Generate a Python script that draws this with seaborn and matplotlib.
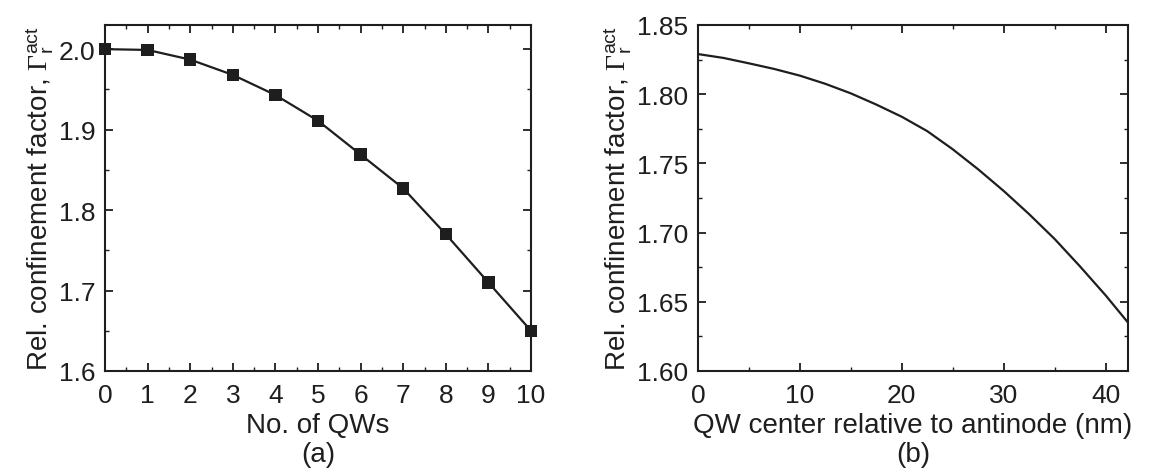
import numpy as np
import pandas as pd
import matplotlib
matplotlib.use("Agg")
import matplotlib.pyplot as plt
from matplotlib.ticker import MultipleLocator, FormatStrFormatter
import seaborn as sns

# Panel (a) data
num_qws = [0, 1, 2, 3, 4, 5, 6, 7, 8, 9, 10]
gamma_a = [2.000, 1.999, 1.987, 1.968, 1.943, 1.911, 1.869, 1.827, 1.770, 1.710, 1.650]

# Panel (b) data
qw_pos = [0, 2.5, 5, 7.5, 10, 12.5, 15, 17.5, 20, 22.5, 25, 27.5, 30,
          32.5, 35, 37.5, 40, 42.2]
gamma_b = [1.829, 1.8262, 1.8223, 1.8182, 1.8134, 1.8075, 1.8006, 1.7925,
           1.7837, 1.7733, 1.7602, 1.7457, 1.7301, 1.7133, 1.6954, 1.6755,
           1.6547, 1.635]

xlabel_a = "No. of QWs"
xlabel_b = "QW center relative to antinode (nm)"
ylabel = r"Rel. confinement factor, $\Gamma_{\mathsf{r}}^{\mathsf{act}}$"

sns.set_theme(style="ticks")
plt.rcParams['font.family'] = ['Liberation Sans', 'DejaVu Sans']
plt.rcParams['mathtext.fontset'] = 'custom'
plt.rcParams['mathtext.rm'] = 'Liberation Serif'
plt.rcParams['mathtext.sf'] = 'Liberation Sans'
plt.rcParams['mathtext.it'] = 'Liberation Serif:italic'

TFS = 19
LFS = 20
INK = "#1e1e1e"
fig = plt.figure(figsize=(11.52, 4.77), dpi=100)
ax1 = fig.add_axes([105/1152, 105/477, 426/1152, 346/477])
ax2 = fig.add_axes([698/1152, 105/477, 430/1152, 346/477])

df_a = pd.DataFrame({"n": num_qws, "g": gamma_a})
df_b = pd.DataFrame({"x": qw_pos, "g": gamma_b})

sns.lineplot(data=df_a, x="n", y="g", ax=ax1, color=INK, lw=1.6)
sns.scatterplot(data=df_a, x="n", y="g", ax=ax1, color=INK, marker="s",
                s=80, edgecolor="none", zorder=3, clip_on=False)
sns.lineplot(data=df_b, x="x", y="g", ax=ax2, color=INK, lw=1.6)

ax1.set_xlim(0, 10)
ax1.set_ylim(1.6, 2.03)
ax1.xaxis.set_major_locator(MultipleLocator(1))
ax1.xaxis.set_minor_locator(MultipleLocator(0.5))
ax1.yaxis.set_major_locator(MultipleLocator(0.1))
ax1.yaxis.set_minor_locator(MultipleLocator(0.05))
ax1.yaxis.set_major_formatter(FormatStrFormatter('%.1f'))

ax2.set_xlim(0, 42.2)
ax2.set_ylim(1.60, 1.85)
ax2.xaxis.set_major_locator(MultipleLocator(10))
ax2.xaxis.set_minor_locator(MultipleLocator(5))
ax2.yaxis.set_major_locator(MultipleLocator(0.05))
ax2.yaxis.set_minor_locator(MultipleLocator(0.025))
ax2.yaxis.set_major_formatter(FormatStrFormatter('%.2f'))

for ax, xl, tag in [(ax1, xlabel_a, "(a)"), (ax2, xlabel_b, "(b)")]:
    for sp in ax.spines.values():
        sp.set_visible(True)
        sp.set_linewidth(1.5)
        sp.set_color(INK)
    ax.tick_params(which="both", direction="in", top=True, right=True,
                   labelsize=TFS, colors=INK, labelcolor=INK)
    ax.tick_params(which="major", length=6, width=1.3, pad=7)
    ax.tick_params(which="minor", length=3, width=1.0)
    ax.tick_params(axis="x", which="major", pad=9)
    ax.set_xlabel(xl + "\n" + tag, fontsize=LFS, color=INK, labelpad=3, linespacing=1.15)
    ax.set_ylabel(ylabel, fontsize=LFS, color=INK, labelpad=2)

fig.savefig("out.png", dpi=100, facecolor="white")
